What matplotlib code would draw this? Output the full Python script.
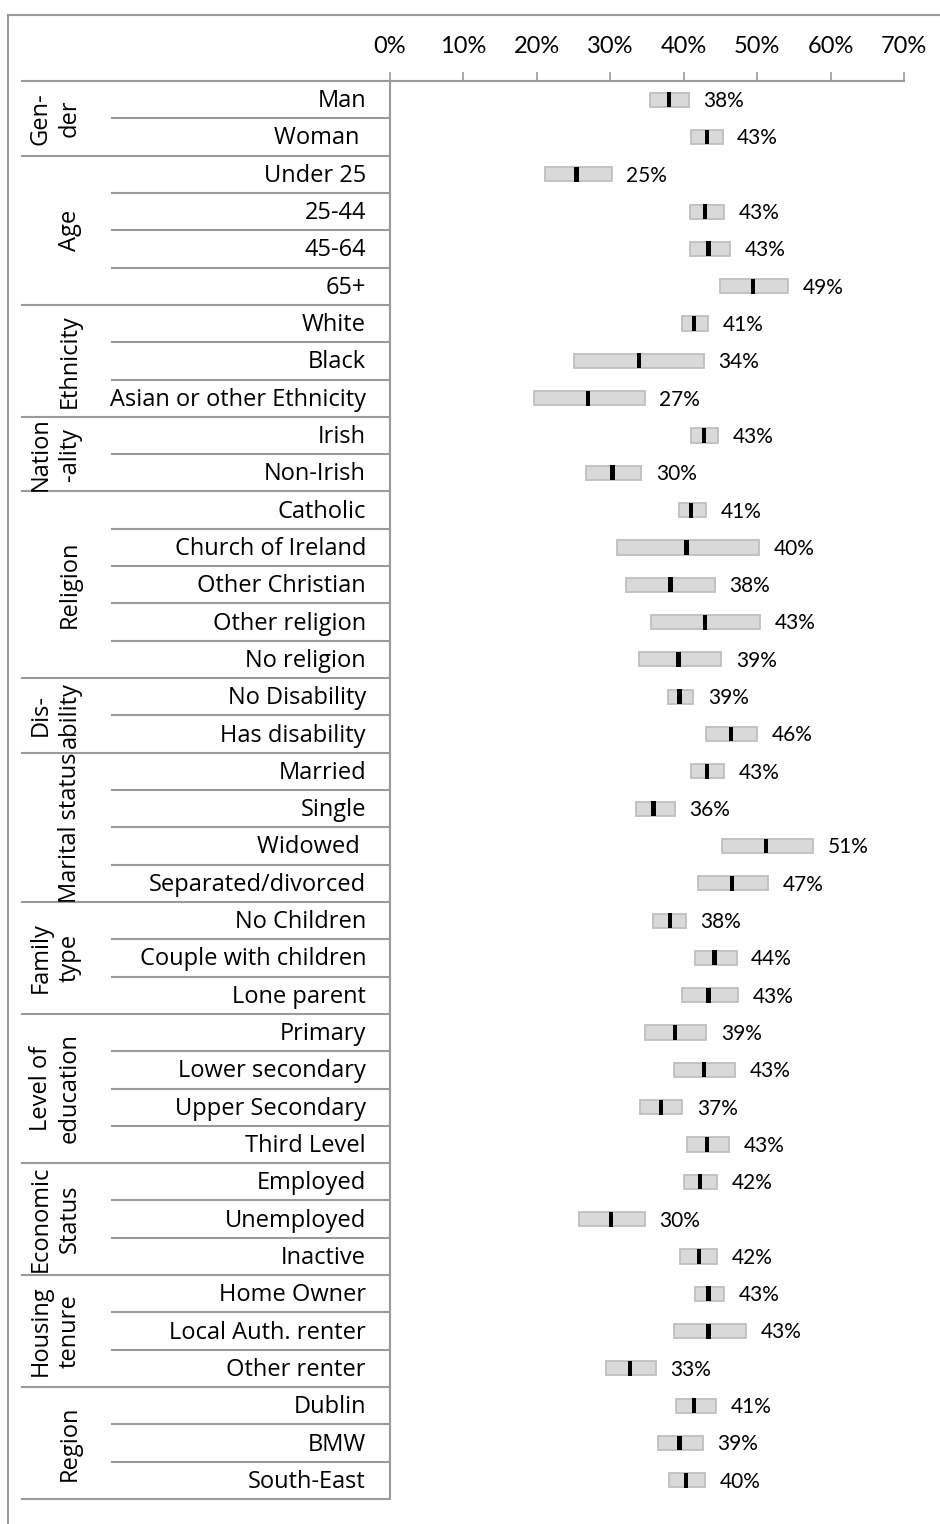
import matplotlib
matplotlib.use("Agg")
import matplotlib.pyplot as plt
import matplotlib.transforms as mtransforms
import numpy as np

# Data: group headings, row labels, interval low/high and point estimate (%)
groups = ["Gen-\nder", "Age", "Ethnicity", "Nation\n-ality", "Religion", "Dis-\nability",
          "Marital status", "Family\ntype", "Level of\neducation", "Economic\nStatus",
          "Housing\ntenure", "Region"]
group_sizes = [2, 4, 3, 2, 5, 2, 4, 3, 4, 3, 3, 3]

categories = ["Man", "Woman ", "Under 25", "25-44", "45-64", "65+",
              "White", "Black", "Asian or other Ethnicity",
              "Irish", "Non-Irish",
              "Catholic", "Church of Ireland", "Other Christian", "Other religion", "No religion",
              "No Disability", "Has disability",
              "Married", "Single", "Widowed ", "Separated/divorced",
              "No Children", "Couple with children", "Lone parent",
              "Primary", "Lower secondary", "Upper Secondary", "Third Level",
              "Employed", "Unemployed", "Inactive",
              "Home Owner", "Local Auth. renter", "Other renter",
              "Dublin", "BMW", "South-East"]

low = [35.4, 41.0, 21.1, 40.8, 40.8, 44.9, 39.7, 25.1, 19.6, 41.0, 26.7, 39.3, 30.9,
       32.2, 35.6, 33.9, 37.8, 43.0, 41.0, 33.5, 45.2, 41.9, 35.8, 41.5, 39.7, 34.7,
       38.7, 34.1, 40.4, 40.0, 25.7, 39.5, 41.5, 38.7, 29.4, 38.9, 36.5, 38.0]
high = [40.7, 45.3, 30.2, 45.5, 46.3, 54.2, 43.3, 42.7, 34.7, 44.7, 34.2, 43.1, 50.3,
        44.2, 50.4, 45.1, 41.3, 50.0, 45.5, 38.8, 57.6, 51.5, 40.3, 47.2, 47.4, 43.1,
        47.0, 39.8, 46.2, 44.6, 34.7, 44.6, 45.5, 48.5, 36.2, 44.4, 42.6, 42.9]
estimate = [38.0, 43.2, 25.4, 42.9, 43.4, 49.4, 41.4, 33.9, 27.0, 42.8, 30.3, 41.0, 40.4,
            38.2, 42.9, 39.3, 39.4, 46.4, 43.2, 35.9, 51.2, 46.6, 38.1, 44.2, 43.4, 38.8,
            42.8, 36.9, 43.2, 42.2, 30.1, 42.1, 43.4, 43.4, 32.7, 41.4, 39.4, 40.3]
xticks = [0, 10, 20, 30, 40, 50, 60, 70]

LABEL_FONT = ["Open Sans", "DejaVu Sans"]
NUM_FONT = ["Lato", "DejaVu Sans"]
LINE = "#9a9a9a"
W, H = 940, 1524

fig = plt.figure(figsize=(W / 100, H / 100), dpi=100)
# axes placed in pixel terms: x 390..904, y 81..1499 (from top)
ax = fig.add_axes([390 / W, 1 - 1499 / H, (904 - 390) / W, (1499 - 81) / H])

n = len(categories)
y = np.arange(n)
low = np.array(low)
high = np.array(high)
estimate = np.array(estimate)

ax.barh(y, high - low, left=low, height=0.38, color="#d9d9d9",
        edgecolor="#bfbfbf", linewidth=1.3, zorder=2)
ax.barh(y, 0.6, left=estimate - 0.3, height=0.40, color="black", zorder=3)

for yi, hi, est in zip(y, high, estimate):
    ax.annotate(f"{round(est)}%", (hi, yi), xytext=(10.5, -1), textcoords="offset points",
                ha="left", va="center", fontsize=15, family=NUM_FONT)

ax.set_xlim(0, 70)
ax.set_ylim(n - 0.5, -0.5)
ax.set_xticks(xticks)
ax.set_xticklabels([f"{t}%" for t in xticks], fontsize=17, family=NUM_FONT)
ax.xaxis.tick_top()
ax.tick_params(axis="x", direction="out", length=6.5, width=1.2, color=LINE, pad=11)
ax.set_yticks([])
for s in ["right", "bottom"]:
    ax.spines[s].set_visible(False)
for s in ["top", "left"]:
    ax.spines[s].set_color(LINE)
    ax.spines[s].set_linewidth(1.5)

# left-hand table: x in figure pixels, y in data rows
tr = mtransforms.blended_transform_factory(
    mtransforms.Affine2D().scale(1 / W, 1) + fig.transFigure, ax.transData)

for yi, cat in zip(y, categories):
    fig.text(366, yi + 0.04, cat, transform=tr, ha="right", va="center", fontsize=17,
             family=LABEL_FONT)

start = 0
for g, size in zip(groups, group_sizes):
    end = start + size
    ax.plot([21, 390], [start - 0.5, start - 0.5], transform=tr, color=LINE, lw=1.5,
            clip_on=False, solid_capstyle="butt")
    for k in range(start + 1, end):
        ax.plot([111, 390], [k - 0.5, k - 0.5], transform=tr, color=LINE, lw=1.5,
                clip_on=False, solid_capstyle="butt")
    fig.text(82, (start + end - 1) / 2, g, transform=tr, rotation=90, ha="right",
             va="center", multialignment="center", fontsize=17, family=LABEL_FONT,
             linespacing=1.3)
    start = end
ax.plot([21, 390], [n - 0.5, n - 0.5], transform=tr, color=LINE, lw=1.5,
        clip_on=False, solid_capstyle="butt")

# outer frame of the original chart area (cropped)
fig.add_artist(plt.Line2D([8 / W, 1], [1 - 15 / H, 1 - 15 / H], color=LINE, lw=1.5))
fig.add_artist(plt.Line2D([8 / W, 8 / W], [0, 1 - 15 / H], color=LINE, lw=1.5))

fig.savefig("out.png", dpi=100)
